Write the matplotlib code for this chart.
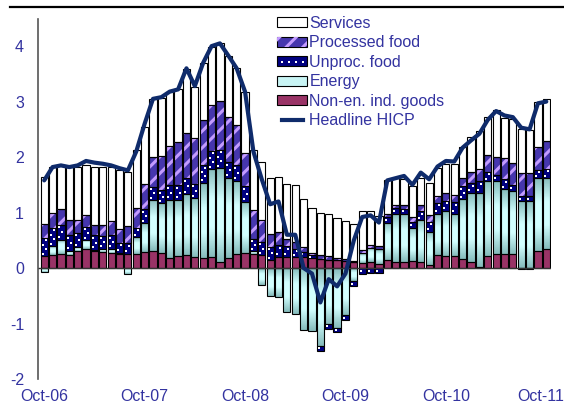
import numpy as np
import pandas as pd
import matplotlib
matplotlib.use("Agg")
import matplotlib.pyplot as plt
import matplotlib.transforms as mtransforms
from matplotlib.patches import Patch
from matplotlib.lines import Line2D
from matplotlib.colors import LinearSegmentedColormap

# monthly observations Oct-06 .. Oct-11
months = pd.date_range("2006-10-01", periods=61, freq="MS")
tick_labels = ["Oct-06", "Oct-07", "Oct-08", "Oct-09", "Oct-10", "Oct-11"]

# percentage point contributions
neig = [0.22, 0.23, 0.25, 0.23, 0.31, 0.34, 0.31, 0.29, 0.28, 0.25, 0.26, 0.26,
        0.29, 0.31, 0.28, 0.19, 0.22, 0.24, 0.20, 0.19, 0.20, 0.11, 0.19, 0.25,
        0.27, 0.26, 0.23, 0.15, 0.20, 0.20, 0.20, 0.20, 0.18, 0.17, 0.15, 0.15,
        0.12, 0.10, 0.09, 0.10, 0.08, 0.14, 0.10, 0.11, 0.13, 0.10, 0.05, 0.23,
        0.22, 0.22, 0.17, 0.11, 0.02, 0.22, 0.26, 0.26, 0.25, -0.02, -0.02, 0.31, 0.34]
energy = [-0.07, 0.16, 0.26, 0.08, 0.07, 0.17, 0.02, 0.06, 0.07, 0.03, -0.11, 0.30,
          0.52, 0.92, 0.89, 1.04, 1.01, 1.09, 1.06, 1.35, 1.59, 1.69, 1.43, 1.32,
          0.92, 0.05, -0.30, -0.50, -0.52, -0.80, -0.82, -1.12, -1.14, -1.40, -1.00, -1.08,
          -0.85, -0.23, 0.18, 0.26, 0.27, 0.68, 0.88, 0.87, 0.60, 0.76, 0.60, 0.75,
          0.81, 0.76, 1.07, 1.25, 1.33, 1.35, 1.31, 1.16, 1.13, 1.20, 1.20, 1.31, 1.29]
unproc = [0.32, 0.34, 0.27, 0.28, 0.25, 0.23, 0.26, 0.23, 0.24, 0.17, 0.19, 0.17,
          0.25, 0.23, 0.23, 0.26, 0.26, 0.29, 0.26, 0.31, 0.32, 0.33, 0.29, 0.29,
          0.29, 0.22, 0.24, 0.23, 0.21, 0.20, 0.14, 0.09, 0.05, -0.09, -0.09, -0.08,
          -0.09, -0.10, -0.10, -0.09, -0.09, 0.10, 0.10, 0.08, 0.10, 0.16, 0.18, 0.20,
          0.18, 0.21, 0.23, 0.17, 0.21, 0.17, 0.11, 0.18, 0.12, 0.10, 0.10, 0.15, 0.15]
proc = [0.25, 0.26, 0.28, 0.28, 0.23, 0.22, 0.19, 0.20, 0.25, 0.25, 0.30, 0.36,
        0.46, 0.55, 0.62, 0.71, 0.78, 0.82, 0.82, 0.82, 0.82, 0.88, 0.81, 0.72,
        0.60, 0.52, 0.40, 0.24, 0.24, 0.13, 0.13, 0.09, 0.05, 0.06, 0.07, 0.04,
        0.04, 0.03, 0.06, 0.05, 0.04, 0.05, 0.06, 0.07, 0.09, 0.12, 0.12, 0.11,
        0.14, 0.13, 0.16, 0.21, 0.22, 0.29, 0.32, 0.38, 0.40, 0.41, 0.41, 0.42, 0.51]
serv = [0.86, 0.83, 0.79, 0.95, 0.97, 0.90, 1.05, 1.04, 0.98, 1.07, 0.98, 1.03,
        1.02, 1.04, 1.04, 0.98, 0.96, 1.15, 0.92, 1.02, 1.05, 1.05, 1.11, 1.03,
        1.10, 1.08, 1.05, 1.01, 1.00, 0.98, 1.03, 0.86, 0.81, 0.77, 0.75, 0.71,
        0.69, 0.66, 0.70, 0.62, 0.55, 0.62, 0.48, 0.47, 0.55, 0.49, 0.58, 0.51,
        0.52, 0.55, 0.56, 0.63, 0.69, 0.70, 0.85, 0.73, 0.78, 0.79, 0.78, 0.81, 0.75]
headline = [1.58, 1.82, 1.85, 1.82, 1.85, 1.93, 1.90, 1.88, 1.85, 1.80, 1.76, 2.10,
            2.60, 3.05, 3.08, 3.18, 3.22, 3.60, 3.28, 3.70, 4.00, 4.05, 3.83, 3.60,
            3.18, 2.10, 1.60, 1.15, 1.20, 0.60, 0.60, 0.00, -0.10, -0.62, -0.20, -0.33,
            -0.10, 0.50, 0.92, 0.95, 0.82, 1.58, 1.62, 1.66, 1.50, 1.72, 1.60, 1.83,
            1.93, 1.92, 2.17, 2.30, 2.42, 2.67, 2.83, 2.75, 2.72, 2.53, 2.50, 2.97, 3.00]

TXT = "#3333a0"
NAVY_LINE = "#0f2b6b"
plt.rcParams['font.family'] = ['Liberation Sans Narrow', 'Liberation Sans', 'DejaVu Sans']
plt.rcParams['hatch.linewidth'] = 2.2
plt.rcParams['axes.unicode_minus'] = False

fig = plt.figure(figsize=(5.64, 4.05), dpi=100)
ax = fig.add_axes([38 / 564, 26 / 405, 512.5 / 564, 359.5 / 405])

x = np.arange(len(months))
W = 0.86
pos_base = np.zeros(len(x))
neg_base = np.zeros(len(x))

def stack(vals):
    v = np.array(vals)
    bottom = np.where(v >= 0, pos_base, neg_base)
    pos_base[:] += np.where(v >= 0, v, 0)
    neg_base[:] += np.where(v < 0, v, 0)
    return v, bottom

grad = LinearSegmentedColormap.from_list("en", ["#86bcbc", "#d2ffff", "#d2ffff", "#86bcbc"])

v, b = stack(neig)
ax.bar(x, v, W, bottom=b, color="#993366", edgecolor="black", lw=0.8, zorder=2)

v, b = stack(energy)
en = ax.bar(x, v, W, bottom=b, facecolor="none", edgecolor="black", lw=0.8, zorder=2)
for p in en.patches:
    x0, y0 = p.get_x(), p.get_y()
    ax.imshow(np.linspace(0, 1, 50).reshape(-1, 1), cmap=grad, aspect="auto",
              extent=(x0, x0 + p.get_width(), y0, y0 + p.get_height()),
              origin="lower", zorder=1.9)

v, b = stack(unproc)
ax.bar(x, v, W, bottom=b, color="#000080", edgecolor="black", lw=0.8, zorder=2)
# small white dots inside each unprocessed food segment
dx, dy = [], []
for i in range(len(x)):
    n = max(1, int(round(abs(v[i]) / 0.085)))
    for k in range(n):
        dx.append(x[i] + (-0.18 if k % 2 == 0 else 0.18))
        dy.append(b[i] + (k + 0.5) * v[i] / n)
ax.scatter(dx, dy, s=2.2, marker="s", color="white", lw=0, zorder=2.1)

v, b = stack(proc)
ax.bar(x, v, W, bottom=b, color="#4636ae", edgecolor="black", lw=0.8, zorder=2)
ax.bar(x, v, W, bottom=b, facecolor="none", edgecolor="#c39bff", hatch="//", lw=0, zorder=2.1)
ax.bar(x, v, W, bottom=b, facecolor="none", edgecolor="black", lw=0.8, zorder=2.2)

v, b = stack(serv)
ax.bar(x, v, W, bottom=b, color="white", edgecolor="black", lw=0.8, zorder=2)

ax.plot(x, headline, color=NAVY_LINE, lw=3, zorder=3, solid_capstyle="round")
ax.axhline(0, color="#333333", lw=1, zorder=2.5)

ax.set_xlim(-0.74, 60.5)
ax.set_ylim(-2, 4.48)
ax.set_yticks(range(-2, 5))
ax.set_xticks(range(0, 61, 12))
ax.set_xticklabels(tick_labels)
ax.tick_params(axis="both", length=0, colors=TXT, labelsize=11.5)
ax.tick_params(axis="y", pad=10)
ax.tick_params(axis="x", pad=7)
last = ax.get_xticklabels()[-1]
last.set_transform(last.get_transform() + mtransforms.ScaledTranslation(-6 / 100, 0, fig.dpi_scale_trans))
for s in ["top", "right", "bottom"]:
    ax.spines[s].set_visible(False)
ax.spines["left"].set_color("#555555")
ax.spines["left"].set_linewidth(1.2)

handles = [
    Patch(facecolor="white", edgecolor="black", lw=0.8),
    (Patch(facecolor="#4636ae", edgecolor="black", lw=0.8),
     Patch(facecolor="none", edgecolor="#c39bff", hatch="//", lw=0)),
    (Patch(facecolor="#000080", edgecolor="black", lw=0.8),
     Line2D([], [], ls="none", marker="s", markersize=1.6, color="white", mew=0)),
    Patch(facecolor="#c8f4f4", edgecolor="black", lw=0.8),
    Patch(facecolor="#993366", edgecolor="black", lw=0.8),
    Line2D([], [], color=NAVY_LINE, lw=3),
]
labels = ["Services", "Processed food", "Unproc. food", "Energy",
          "Non-en. ind. goods", "Headline HICP"]
leg = fig.legend(handles, labels, loc="upper left", bbox_to_anchor=(277 / 564, 1 - 16 / 405),
                 frameon=False, fontsize=11.5, handlelength=1.9, handleheight=0.6,
                 handletextpad=0.12, labelspacing=0.28, borderpad=0, borderaxespad=0,
                 numpoints=4)
for t in leg.get_texts():
    t.set_color(TXT)

fig.add_artist(Line2D([10 / 564, 1], [1 - 7 / 405, 1 - 7 / 405], color="black", lw=1.6))

fig.savefig("out.png", dpi=100)
